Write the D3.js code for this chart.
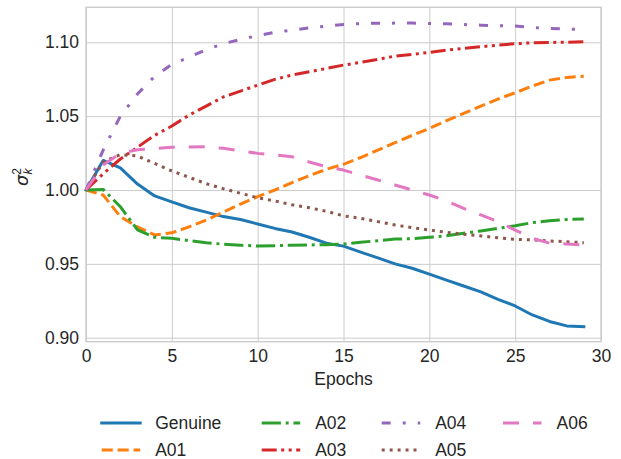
<!DOCTYPE html>
<html>
<head>
<meta charset="utf-8">
<script src="https://cdn.jsdelivr.net/npm/d3@7"></script>
<style>
  body { margin: 0; background: #fff; }
  text { font-family: "Liberation Sans", Arial, sans-serif; fill: #262626; }
</style>
</head>
<body>
<svg id="vis" width="621" height="459"></svg>
<script>
// data
const epochs = d3.range(0, 30);

const genuine = [1.000, 1.020, 1.015, 1.004, 0.996, 0.992, 0.988, 0.985, 0.982, 0.980,
  0.977, 0.974, 0.9716, 0.968, 0.964, 0.962, 0.958, 0.954, 0.950, 0.947,
  0.943, 0.939, 0.935, 0.931, 0.926, 0.9215, 0.9154, 0.911, 0.908, 0.9075];
const a01 = [1.000, 0.9966, 0.982, 0.975, 0.9696, 0.971, 0.975, 0.9797, 0.985, 0.9905,
  0.9955, 1.000, 1.005, 1.0097, 1.014, 1.0174, 1.022, 1.027, 1.032, 1.037,
  1.0417, 1.0469, 1.0519, 1.0568, 1.0616, 1.0658, 1.0704, 1.0744, 1.0762, 1.0771];
const a02 = [1.000, 1.0004, 0.9887, 0.973, 0.968, 0.9673, 0.9657, 0.9643, 0.9633, 0.9626,
  0.9621, 0.9623, 0.9626, 0.9628, 0.963, 0.9635, 0.9646, 0.9657, 0.9668, 0.967,
  0.968, 0.969, 0.9707, 0.9723, 0.974, 0.9758, 0.9779, 0.9792, 0.980, 0.9804];
const a03 = [1.000, 1.011, 1.021, 1.029, 1.037, 1.0433, 1.0507, 1.0568, 1.063, 1.067,
  1.071, 1.0749, 1.0778, 1.080, 1.0823, 1.0846, 1.0864, 1.0884, 1.0907, 1.0918,
  1.0932, 1.0947, 1.0959, 1.097, 1.0981, 1.099, 1.0997, 1.0999, 1.1001, 1.1003];
const a04 = [1.000, 1.027, 1.050, 1.065, 1.077, 1.085, 1.090, 1.095, 1.099, 1.102,
  1.1045, 1.1068, 1.1083, 1.1097, 1.111, 1.112, 1.1127, 1.1129, 1.113, 1.113,
  1.1128, 1.1125, 1.112, 1.1116, 1.1112, 1.111, 1.110, 1.1094, 1.109, 1.1087];
const a05 = [1.000, 1.019, 1.024, 1.023, 1.018, 1.0129, 1.0086, 1.0043, 1.0009, 0.9978,
  0.9948, 0.9926, 0.990, 0.988, 0.9856, 0.9825, 0.9808, 0.9786, 0.9763, 0.9745,
  0.9729, 0.9714, 0.970, 0.9689, 0.9677, 0.9666, 0.9662, 0.9655, 0.965, 0.9643];
const a06 = [1.000, 1.017, 1.0248, 1.0273, 1.028, 1.0289, 1.0292, 1.0293, 1.0282, 1.0266,
  1.0248, 1.0237, 1.0225, 1.019, 1.0158, 1.0135, 1.0101, 1.0068, 1.0034, 1.000,
  0.9966, 0.9926, 0.9876, 0.9831, 0.9786, 0.9729, 0.9673, 0.964, 0.9635, 0.9628];

const names = ["Genuine", "A01", "A02", "A03", "A04", "A05", "A06"];
const colors = ["#1f77b4", "#ff7f0e", "#2ca02c", "#d62728", "#9467bd", "#8c564b", "#e377c2"];
const dashes = [null, "11.1,4.8", "19.2,4.8,3,4.8", "15,4.5,3,4.5,3,4.5", "9,12,3,12", "3,4.95", "16,14"];
const xTicks = [0, 5, 10, 15, 20, 25, 30];
const yTicks = [0.90, 0.95, 1.00, 1.05, 1.10];

const seriesList = [genuine, a01, a02, a03, a04, a05, a06];
const series = names.map((n, i) => ({ name: n, color: colors[i], dash: dashes[i], values: seriesList[i] }));

const mLeft = 86, mRight = 601, mTop = 7.3, mBottom = 341.7;
const w = mRight - mLeft, h = mBottom - mTop;

const svg = d3.select("#vis");
const g = svg.append("g").attr("transform", `translate(${mLeft},${mTop})`);

// SCALES
const x = d3.scaleLinear().domain([0, 30]).range([0, w]);
const y = d3.scaleLinear().domain([0.8973, 1.1237]).range([h, 0]);

// grid + tick labels
const xAxis = g.append("g")
  .attr("transform", `translate(0,${h})`)
  .call(d3.axisBottom(x).tickValues(xTicks).tickSize(-h).tickPadding(8).tickFormat(d3.format("d")));
const yAxis = g.append("g")
  .call(d3.axisLeft(y).tickValues(yTicks).tickSize(-w).tickPadding(7).tickFormat(d3.format(".2f")));

[xAxis, yAxis].forEach(a => {
  a.select(".domain").remove();
  a.selectAll("line").attr("stroke", "#cccccc").attr("stroke-width", 1);
  a.selectAll("text").style("font-size", "17.5px").attr("fill", "#262626");
});

// frame
g.append("rect")
  .attr("width", w).attr("height", h)
  .attr("fill", "none").attr("stroke", "#cccccc").attr("stroke-width", 1.4);

// lines
const line = d3.line()
  .x((d, i) => x(epochs[i]))
  .y(d => y(d));

g.selectAll("path.series")
  .data(series)
  .join("path")
  .attr("class", "series")
  .attr("d", d => line(d.values))
  .attr("fill", "none")
  .attr("stroke", d => d.color)
  .attr("stroke-width", 3)
  .attr("stroke-linejoin", "round")
  .attr("stroke-linecap", d => d.dash ? "butt" : "square")
  .attr("stroke-dasharray", d => d.dash);

// axis labels
svg.append("text")
  .attr("x", mLeft + w / 2).attr("y", 385)
  .attr("text-anchor", "middle")
  .style("font-size", "17.5px")
  .text("Epochs");

const yl = svg.append("text")
  .attr("transform", "translate(28,177) rotate(-90)")
  .attr("text-anchor", "middle")
  .style("font-size", "17.5px");
yl.append("tspan").style("font-family", "DejaVu Sans").style("font-style", "italic").text("σ");
yl.append("tspan").attr("dy", -7).style("font-size", "12px").text("2");
yl.append("tspan").attr("dy", 11).attr("dx", -6.5).style("font-size", "12px")
  .style("font-style", "italic").text("k");

// legend, column-major, 2 rows
const colX = [101.7, 261.7, 381.7, 503];
const rowY = [423, 450];
const leg = svg.append("g");
series.forEach((s, i) => {
  const cx = colX[Math.floor(i / 2)], cy = rowY[i % 2];
  leg.append("line")
    .attr("x1", cx).attr("x2", cx + 38.5)
    .attr("y1", cy).attr("y2", cy)
    .attr("stroke", s.color).attr("stroke-width", 3)
    .attr("stroke-dasharray", s.dash)
    .attr("stroke-linecap", s.dash ? "butt" : "square");
  leg.append("text")
    .attr("x", cx + 53.5).attr("y", cy)
    .attr("dy", "0.35em")
    .style("font-size", "17.5px")
    .text(s.name);
});
</script>
</body>
</html>
